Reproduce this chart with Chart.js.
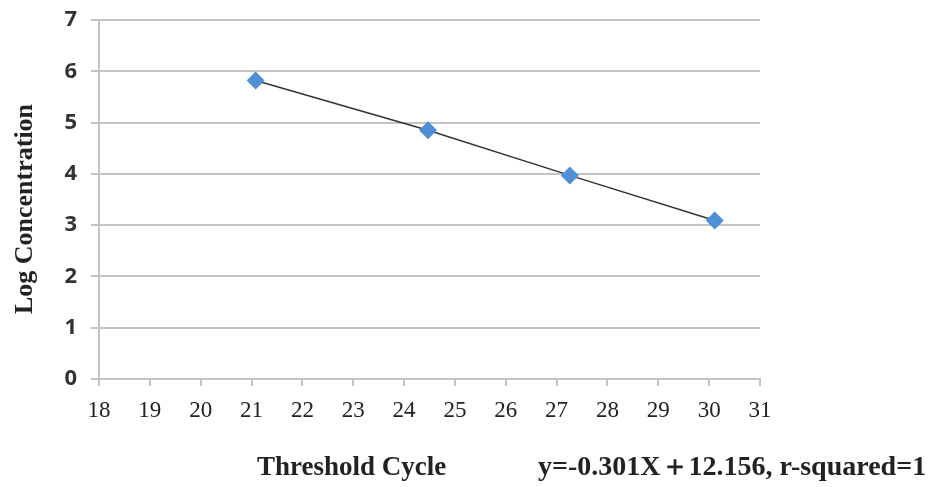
<!DOCTYPE html>
<html>
<head>
<meta charset="utf-8">
<script src="https://cdn.jsdelivr.net/npm/chart.js@4"></script>
<style>
  html, body { margin: 0; padding: 0; background: #fff; }
  #wrap { width: 930px; height: 487px; }
</style>
</head>
<body>
<div id="wrap"><canvas id="myChart" width="930" height="487"></canvas></div>
<script>
// data
var cycles = [21.08, 24.47, 27.26, 30.11];
var logConc = [5.82, 4.85, 3.97, 3.09];
var xTitle = 'Threshold Cycle';
var yTitle = 'Log Concentration';
var fitText = 'y=-0.301X\uFF0B12.156, r-squared=1';

var points = cycles.map(function (c, i) { return { x: c, y: logConc[i] }; });

// bottom texts + y title drawn by hand
var extraText = {
  id: 'extraText',
  afterDraw: function (chart) {
    var ctx = chart.ctx;
    ctx.save();
    ctx.fillStyle = '#222';
    ctx.textBaseline = 'middle';
    ctx.textAlign = 'left';
    ctx.font = 'bold 27px "Liberation Serif", serif';
    ctx.fillText(xTitle, 257, 468);
    ctx.font = 'bold 28px "Liberation Serif", serif';
    ctx.fillText(fitText, 538, 468);

    ctx.font = 'bold 26px "Liberation Serif", serif';
    ctx.translate(25, 209);
    ctx.rotate(-Math.PI / 2);
    ctx.textAlign = 'center';
    ctx.fillText(yTitle, 0, 0);
    ctx.restore();
  }
};

var config = {
  type: 'scatter',
  data: {
    datasets: [{
      data: points,
      showLine: true,
      borderColor: '#333',
      borderWidth: 1.5,
      pointStyle: 'rectRot',
      pointRadius: 9,
      pointHoverRadius: 9,
      pointBackgroundColor: '#4f8fd6',
      pointBorderColor: '#4f8fd6',
      pointBorderWidth: 0
    }]
  },
  options: {
    responsive: false,
    animation: false,
    layout: { padding: { left: 0, right: 170, top: 20, bottom: 0 } },
    plugins: { legend: { display: false }, tooltip: { enabled: false } },
    scales: {
      x: {
        type: 'linear',
        min: 18, max: 31,
        afterFit: function (s) { s.height = 108; s.paddingLeft = 0; s.paddingRight = 0; },
        ticks: {
          stepSize: 1,
          padding: 11,
          color: '#222',
          font: { family: '"Liberation Serif", serif', size: 23 }
        },
        grid: {
          drawOnChartArea: false,
          drawTicks: true,
          tickLength: 7,
          color: '#c4c4c4',
          lineWidth: 2
        },
        border: { color: '#c4c4c4', width: 2 }
      },
      y: {
        min: 0, max: 7,
        afterFit: function (s) { s.width = 99; s.paddingTop = 0; s.paddingBottom = 0; },
        ticks: {
          stepSize: 1,
          padding: 14,
          color: '#333',
          font: { family: '"Noto Sans", sans-serif', size: 22, weight: 'bold' }
        },
        grid: {
          color: '#c4c4c4',
          lineWidth: 2,
          tickLength: 8
        },
        border: { color: '#c4c4c4', width: 2 }
      }
    }
  },
  plugins: [extraText]
};

new Chart(document.getElementById('myChart'), config);
</script>
</body>
</html>
